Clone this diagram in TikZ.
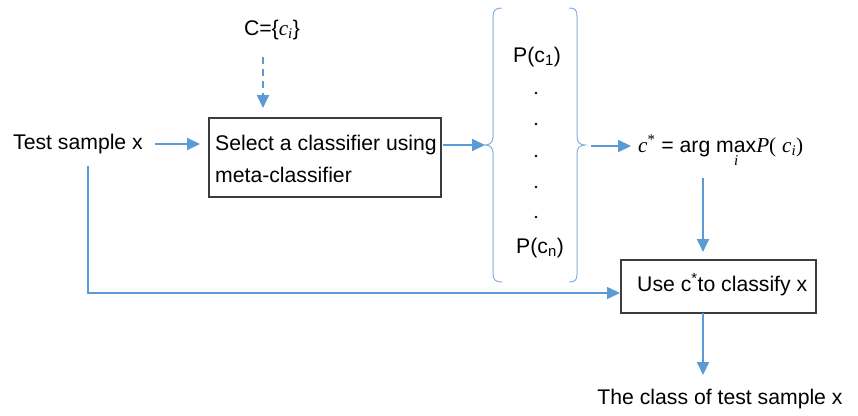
\documentclass[tikz,border=0pt]{standalone}
\usepackage{fontspec}
\usepackage{amsmath}
\setmainfont{Liberation Sans}
\newfontfamily\serifit{Liberation Serif}
\newcommand\mi[1]{{\serifit\itshape #1}}
\usetikzlibrary{arrows.meta}
\definecolor{ablue}{RGB}{91,155,213}
\definecolor{bblue}{RGB}{130,176,222}
\definecolor{boxgray}{RGB}{60,60,60}
\tikzset{
  txt/.style={font=\fontsize{21.2}{25}\selectfont, inner sep=0pt},
  conn/.style={draw=ablue, line width=2pt, -{Triangle[length=13pt,width=12pt]}},
  thinconn/.style={draw=ablue, line width=1.5pt, -{Triangle[length=13pt,width=12pt]}},
  dconn/.style={conn, dash pattern=on 7pt off 5pt},
  brace/.style={draw=bblue, line width=1pt},
  procbox/.style={draw=boxgray, line width=1.1pt},
  dotmark/.style={fill=black, circle, inner sep=0pt, minimum size=2.6pt}
}
\begin{document}
\begin{tikzpicture}[x=1pt,y=-1pt]
\useasboundingbox (0,0) rectangle (858,415);
% texts
\node[txt, anchor=base] (C) at (272,35) {C=\{\mi{c}\textsubscript{\mi{i}}\}};
\node[txt, anchor=base west] (test) at (13,149) {Test sample x};
% box 1
\node[procbox, minimum width=232pt, minimum height=79pt, inner sep=0pt] (box1) at (325,157.5) {};
\node[txt, anchor=base west] (b1l1) at (215,150) {Select a classifier using};
\node[txt, anchor=base west] (b1l2) at (215,182) {meta-classifier};
% probabilities
\node[txt, anchor=base] (pc1) at (537,62) {P(c\textsubscript{1})};
\node[txt, anchor=base] (pcn) at (540,253) {P(c\textsubscript{n})};
\foreach \yy [count=\k] in {93,124,156,187,217} \node[dotmark] (dot\k) at (536,\yy) {};
% braces
\coordinate (lbt) at (485,145);
\coordinate (rbt) at (585,145);
\draw[brace] (502,8) .. controls (496,8) and (493,10) .. (493,16) -- (493,137)
  .. controls (493,142) and (490,145) .. (lbt)
  .. controls (490,145) and (493,148) .. (493,153) -- (493,274)
  .. controls (493,280) and (496,282) .. (502,282);
\draw[brace] (569,8) .. controls (575,8) and (577,10) .. (577,16) -- (577,137)
  .. controls (577,142) and (580,145) .. (rbt)
  .. controls (580,145) and (577,148) .. (577,153) -- (577,274)
  .. controls (577,280) and (575,282) .. (569,282);
% formula
\node[txt, anchor=base west] (form) at (638,152) {\mi{c}\textsuperscript{\serifit *} = arg $\mathop{\hbox{max}}\limits_{\hbox{\fontsize{15}{15}\selectfont\mi{i}}}$\mi{P}{\serifit (} \mi{c}\textsubscript{\mi{i}}{\serifit )}};
% box 2
\node[procbox, minimum width=195pt, minimum height=53pt, inner sep=0pt] (box2) at (718.5,286.5) {};
\node[txt, anchor=base west] (b2t) at (637,291) {Use c\textsuperscript{*}to classify x};
% output
\node[txt, anchor=base] (out) at (720,404) {The class of test sample x};
% connectors
\coordinate (dstart) at (263,57);
\coordinate (dend) at (263,108);
\draw[dconn] (dstart) -- (dend);
\coordinate (t1) at (155,144);
\coordinate (t2) at (200,144);
\draw[conn] (t1) -- (t2);
\coordinate (b1r) at (443,145);
\draw[conn] (b1r) -- (lbt);
\coordinate (r1) at (591,146);
\coordinate (r2) at (631,146);
\draw[conn] (r1) -- (r2);
\coordinate (f1) at (703,178);
\coordinate (f2) at (703,252);
\draw[conn] (f1) -- (f2);
\coordinate (s1) at (88,166);
\coordinate (s2) at (88,293);
\coordinate (s3) at (620,293);
\draw[thinconn] (s1) -- (s2) -- (s3);
\coordinate (o1) at (703,313);
\coordinate (o2) at (703,375);
\draw[conn] (o1) -- (o2);
\end{tikzpicture}
\end{document}
